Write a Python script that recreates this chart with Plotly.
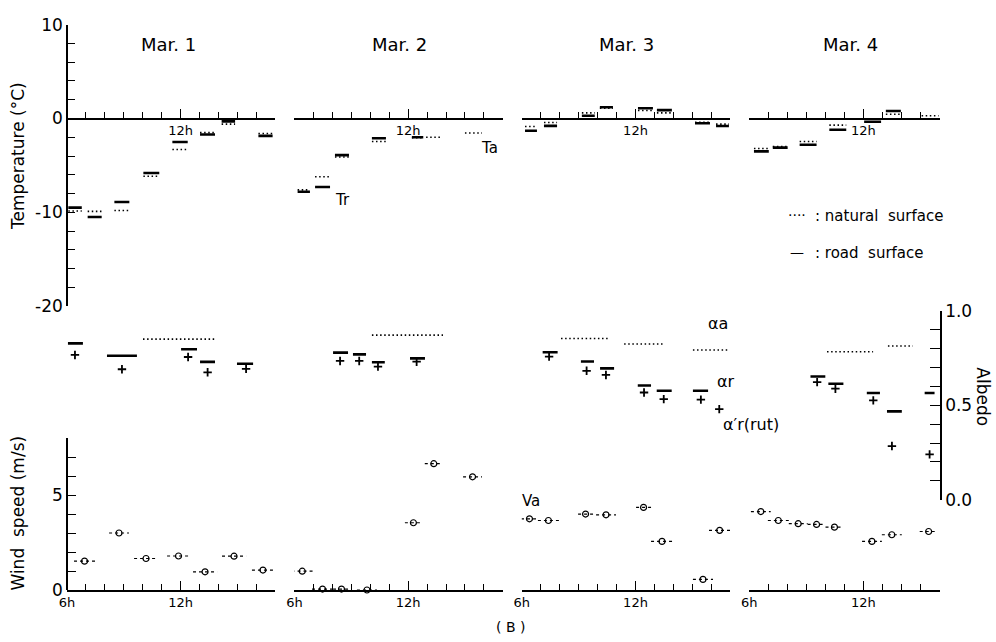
import plotly.graph_objects as go

# ---------------- data ----------------
day_labels = ["Mar. 1", "Mar. 2", "Mar. 3", "Mar. 4"]
day_last_hour = [17, 17, 17, 16]

# Road surface temperature Tr (solid bars): day index, start hour, end hour, value (degC)
tr_day = [0, 0, 0, 0, 0, 0, 0, 0, 1, 1, 1, 1, 1, 2, 2, 2, 2, 2, 2, 2, 2, 3, 3, 3, 3, 3, 3]
tr_start = [6.07, 7.09, 8.50, 10.03, 11.56, 13.02, 14.16, 16.10,
            6.17, 7.09, 8.14, 10.09, 12.20,
            6.17, 7.17, 9.17, 10.12, 12.13, 13.13, 15.14, 16.25,
            6.25, 7.24, 8.65, 10.21, 12.04, 13.18]
tr_end = [6.78, 7.83, 9.29, 10.87, 12.37, 13.81, 14.87, 16.85,
          6.82, 7.88, 8.88, 10.83, 12.80,
          6.80, 7.86, 9.85, 10.81, 12.92, 13.92, 15.93, 16.93,
          7.03, 8.02, 9.54, 11.10, 12.93, 13.97]
tr_value = [-9.5, -10.5, -8.9, -5.8, -2.5, -1.7, -0.3, -1.85,
            -7.8, -7.3, -3.9, -2.1, -2.0,
            -1.3, -0.78, 0.3, 1.2, 1.1, 0.9, -0.5, -0.8,
            -3.5, -3.1, -2.8, -1.2, -0.35, 0.8]

# Natural surface temperature Ta (dotted bars)
ta_day = [0, 0, 0, 0, 0, 0, 0, 0, 1, 1, 1, 1, 1, 1, 1, 2, 2, 2, 2, 2, 2, 2, 2, 3, 3, 3, 3, 3, 3]
ta_start = [6.07, 7.09, 8.50, 10.03, 11.56, 13.02, 14.16, 16.10,
            6.17, 7.09, 8.14, 10.09, 12.20, 12.95, 15.00,
            6.17, 7.17, 9.17, 10.12, 12.13, 13.13, 15.14, 16.25,
            6.25, 7.24, 8.65, 10.21, 13.18, 15.06]
ta_end = [6.78, 7.83, 9.29, 10.87, 12.37, 13.81, 14.87, 16.85,
          6.82, 7.88, 8.88, 10.83, 12.80, 13.80, 15.90,
          6.80, 7.86, 9.85, 10.81, 12.92, 13.92, 15.93, 16.93,
          7.03, 8.02, 9.54, 11.10, 13.97, 15.95]
ta_value = [-9.85, -9.9, -9.8, -6.15, -3.3, -1.5, -0.6, -1.6,
            -7.6, -6.2, -4.1, -2.45, -2.05, -2.0, -1.55,
            -0.85, -0.42, 0.6, 1.1, 0.85, 0.6, -0.4, -0.6,
            -3.2, -3.0, -2.45, -0.7, 0.45, 0.3]

# Road surface albedo alpha_r (solid bars)
ar_day = [0, 0, 0, 0, 0, 1, 1, 1, 1, 2, 2, 2, 2, 2, 2, 3, 3, 3, 3, 3]
ar_start = [6.05, 8.11, 12.02, 13.02, 14.97,
            8.04, 9.09, 10.09, 12.10,
            7.10, 9.12, 10.13, 12.12, 13.12, 15.03,
            9.22, 10.16, 12.18, 13.24, 15.22]
ar_end = [6.84, 9.69, 12.86, 13.81, 15.82,
          8.83, 9.78, 10.77, 12.89,
          7.89, 9.81, 10.87, 12.82, 13.91, 15.83,
          10.00, 10.95, 12.87, 14.02, 15.74]
ar_value = [0.828, 0.763, 0.797, 0.730, 0.720,
            0.779, 0.770, 0.728, 0.749,
            0.781, 0.732, 0.696, 0.605, 0.577, 0.577,
            0.653, 0.614, 0.565, 0.468, 0.565]

# Rut albedo alpha_r' (plus markers)
rut_day = [0, 0, 0, 0, 0, 1, 1, 1, 1, 2, 2, 2, 2, 2, 2, 2, 3, 3, 3, 3, 3]
rut_hour = [6.42, 8.90, 12.39, 13.42, 15.45,
            8.41, 9.42, 10.41, 12.45,
            7.44, 9.42, 10.44, 12.45, 13.49, 15.45, 16.42,
            9.57, 10.53, 12.52, 13.50, 15.48]
rut_value = [0.767, 0.691, 0.756, 0.675, 0.693,
             0.735, 0.735, 0.705, 0.731,
             0.758, 0.683, 0.661, 0.568, 0.533, 0.530, 0.480,
             0.623, 0.588, 0.526, 0.284, 0.240]

# Natural surface albedo alpha_a (dotted bars)
aa_day = [0, 1, 2, 2, 2, 3, 3]
aa_start = [10.01, 10.09, 8.07, 11.40, 15.03, 10.09, 13.29]
aa_end = [13.81, 13.84, 10.55, 13.46, 16.93, 12.51, 14.60]
aa_value = [0.851, 0.872, 0.854, 0.825, 0.793, 0.784, 0.814]

# Wind speed Va (dashed bars with circle)
va_day = [0] * 7 + [1] * 7 + [2] * 8 + [3] * 8
va_start = [6.37, 8.22, 9.54, 11.28, 12.65, 14.18, 15.76,
            5.85, 6.93, 8.04, 9.30, 11.83, 12.88, 14.90,
            5.96, 6.85, 8.97, 9.92, 12.03, 12.82, 15.03, 15.88,
            6.09, 6.98, 8.08, 9.07, 10.01, 11.93, 12.97, 14.96]
va_end = [7.48, 9.27, 10.80, 12.49, 13.92, 15.45, 16.92,
          6.98, 8.04, 8.93, 10.36, 12.73, 13.83, 15.90,
          6.85, 7.96, 9.76, 10.97, 12.82, 13.98, 16.09, 17.00,
          7.13, 8.08, 9.07, 10.01, 10.95, 12.97, 14.02, 15.90]
va_value = [1.52, 3.0, 1.66, 1.79, 0.96, 1.78, 1.05,
            0.99, 0.05, 0.05, 0.0, 3.54, 6.65, 5.96,
            3.75, 3.66, 4.0, 3.96, 4.35, 2.56, 0.56, 3.14,
            4.13, 3.66, 3.49, 3.45, 3.31, 2.56, 2.91, 3.08]

temp_ticks = list(range(-20, 11, 2))
albedo_ticks = [i / 10 for i in range(11)]
wind_ticks = list(range(0, 9))

# ---------------- layout geometry ----------------
W, H = 996, 642
ML, MR, MT, MB = 67, 55, 18, 50
PW, PH = W - ML - MR, H - MT - MB
FONT = "DejaVu Sans"
BLACK = "black"


def fx(px):
    return (px - ML) / PW


def fy(py):
    return (H - MB - py) / PH


day_px = [(67, 275.45), (294.4, 502.85), (521.8, 730.25), (749.2, 939.5)]
temp_dom = [fy(304.2), fy(20.7)]
alb_dom = [fy(499), fy(309)]
wind_dom = [fy(590), fy(436.96)]
zero_pos = temp_dom[0] + (0 - (-20)) / 30 * (temp_dom[1] - temp_dom[0])


def segs(day_list, d, starts, ends, vals):
    xs, ys = [], []
    for dd, s, e, v in zip(day_list, starts, ends, vals):
        if dd == d:
            xs += [s, e, None]
            ys += [v, v, None]
    return xs, ys


fig = go.Figure()
DOT = "1.5px,2.6px"

for d in range(4):
    top = "x" if d == 0 else "x%d" % (d + 1)
    bot = "x%d" % (d + 5)
    # temperatures
    x, y = segs(ta_day, d, ta_start, ta_end, ta_value)
    fig.add_trace(go.Scatter(x=x, y=y, xaxis=top, yaxis="y", mode="lines",
                             line=dict(color=BLACK, width=1.6, dash=DOT), hoverinfo="skip"))
    x, y = segs(tr_day, d, tr_start, tr_end, tr_value)
    fig.add_trace(go.Scatter(x=x, y=y, xaxis=top, yaxis="y", mode="lines",
                             line=dict(color=BLACK, width=2.6), hoverinfo="skip"))
    # albedo
    x, y = segs(aa_day, d, aa_start, aa_end, aa_value)
    fig.add_trace(go.Scatter(x=x, y=y, xaxis=bot, yaxis="y2", mode="lines",
                             line=dict(color=BLACK, width=1.6, dash=DOT), hoverinfo="skip"))
    x, y = segs(ar_day, d, ar_start, ar_end, ar_value)
    fig.add_trace(go.Scatter(x=x, y=y, xaxis=bot, yaxis="y2", mode="lines",
                             line=dict(color=BLACK, width=2.6), hoverinfo="skip"))
    fig.add_trace(go.Scatter(
        x=[h for dd, h in zip(rut_day, rut_hour) if dd == d],
        y=[v for dd, v in zip(rut_day, rut_value) if dd == d],
        xaxis=bot, yaxis="y2", mode="markers", cliponaxis=False,
        marker=dict(symbol="cross-thin", size=6, color=BLACK, line=dict(color=BLACK, width=1.8)),
        hoverinfo="skip"))
    # wind
    x, y = segs(va_day, d, va_start, va_end, va_value)
    fig.add_trace(go.Scatter(x=x, y=y, xaxis=bot, yaxis="y3", mode="lines",
                             line=dict(color=BLACK, width=1.2, dash="3px,3px"), hoverinfo="skip"))
    fig.add_trace(go.Scatter(
        x=[(s + e) / 2 for dd, s, e in zip(va_day, va_start, va_end) if dd == d],
        y=[v for dd, v in zip(va_day, va_value) if dd == d],
        xaxis=bot, yaxis="y3", mode="markers", cliponaxis=False,
        marker=dict(symbol="circle-open", size=6, color=BLACK, line=dict(color=BLACK, width=1.2)),
        hoverinfo="skip"))

layout = dict(
    width=W, height=H, margin=dict(l=ML, r=MR, t=MT, b=MB),
    paper_bgcolor="white", plot_bgcolor="rgba(0,0,0,0)", showlegend=False,
    font=dict(family=FONT, color=BLACK, size=14),
)

for d in range(4):
    end = day_last_hour[d]
    dom = [fx(day_px[d][0]), fx(day_px[d][1])]
    common = dict(
        domain=dom, range=[6, end], showline=True, linecolor=BLACK, linewidth=1.5,
        showgrid=False, zeroline=False, ticks="inside", ticklen=9, tickwidth=1.3,
        tickcolor=BLACK, tickmode="array", tickvals=[6, 12, end],
        minor=dict(tickmode="array", tickvals=[h for h in range(7, end) if h != 12],
                   ticks="inside", ticklen=6, tickwidth=1.3, tickcolor=BLACK),
        tickfont=dict(family=FONT, size=13, color=BLACK), fixedrange=True,
    )
    topkey = "xaxis" if d == 0 else "xaxis%d" % (d + 1)
    layout[topkey] = dict(common, anchor="free", position=zero_pos, ticktext=["", "12h", ""])
    layout["xaxis%d" % (d + 5)] = dict(common, anchor="y3", ticktext=["6h", "12h", ""])

yax_common = dict(showline=True, linecolor=BLACK, linewidth=1.5, showgrid=False, zeroline=False,
                  ticks="inside", tickwidth=1.3, tickcolor=BLACK, tickmode="array",
                  tickfont=dict(family=FONT, size=17, color=BLACK), fixedrange=True)
layout["yaxis"] = dict(yax_common, domain=temp_dom, range=[-20, 10], anchor="free", position=0,
                       side="left", ticklen=7, tickvals=temp_ticks,
                       ticktext=[str(v) if v % 10 == 0 else "" for v in temp_ticks])
layout["yaxis2"] = dict(yax_common, domain=alb_dom, range=[0, 1], anchor="free", position=1,
                        side="right", ticklen=10, tickvals=albedo_ticks,
                        ticktext=["%.1f" % v if i % 5 == 0 else "" for i, v in enumerate(albedo_ticks)])
layout["yaxis3"] = dict(yax_common, domain=wind_dom, range=[0, 8], anchor="free", position=0,
                        side="left", ticklen=8, tickvals=wind_ticks,
                        ticktext=[str(v) if v % 5 == 0 else "" for v in wind_ticks])

ann = []


def text(s, px, py, size=15, angle=0, xanchor="center"):
    ann.append(dict(text=s, x=fx(px), y=fy(py), xref="paper", yref="paper", showarrow=False,
                    xanchor=xanchor, yanchor="middle", textangle=angle,
                    font=dict(family=FONT, size=size, color=BLACK)))


for lab, cx in zip(day_labels, [168, 399, 626, 850]):
    text(lab, cx, 41, size=18)
text("Temperature (°C)", 18, 153, size=17, angle=-90)
text("Wind  speed (m/s)", 18, 513, size=17, angle=-90)
text("Albedo", 983, 395, size=17, angle=90)
text("Tr", 342, 197, size=15)
text("Ta", 489, 145, size=15)
text("αa", 718, 322, size=16)
text("αr", 726, 380, size=16)
text("α′r(rut)", 751, 423, size=16)
text("Va", 531, 500, size=15)
text("( B )", 510, 627, size=14)
text("····", 797, 212, size=14)
text(": natural  surface", 813, 213, size=15, xanchor="left")
text("—", 797, 250, size=14)
text(": road  surface", 813, 251, size=15, xanchor="left")
layout["annotations"] = ann

fig.update_layout(**layout)
fig.write_html("out.html", config={"displayModeBar": False},
               post_script="document.body.style.margin='0';")
